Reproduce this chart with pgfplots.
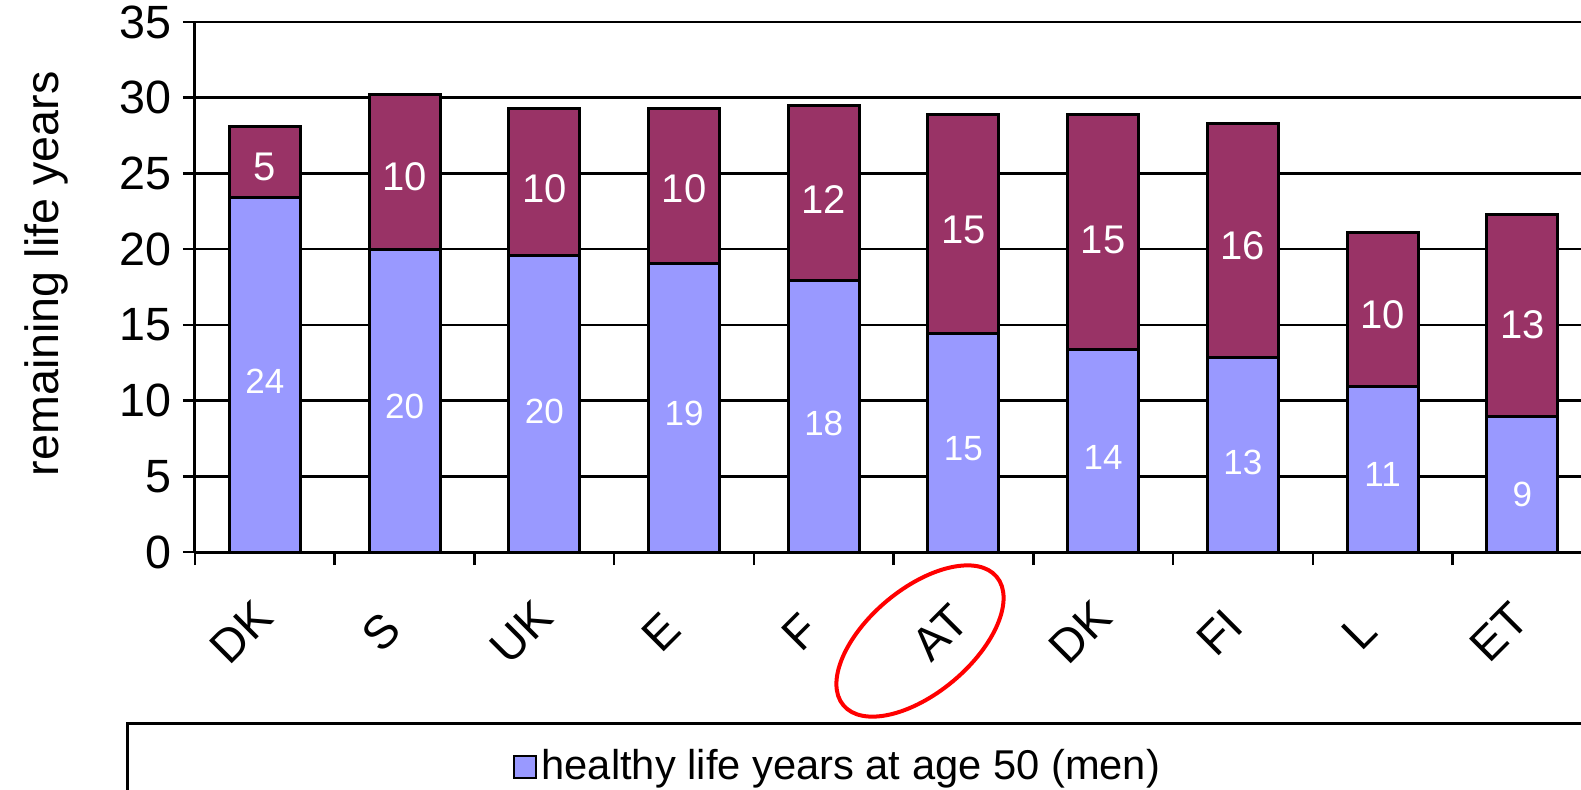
\documentclass[border=0pt]{standalone}
\usepackage{fontspec}
\setmainfont{Liberation Sans}
\usepackage{pgfplots}
\pgfplotsset{compat=1.18}
\definecolor{hly}{HTML}{9999FF}
\definecolor{dly}{HTML}{993366}
\pgfplotstableread{
x h d
0 23.4 4.73
1 20.0 10.2
2 19.6 9.67
3 19.07 10.2
4 17.93 11.54
5 14.4 14.47
6 13.4 15.47
7 12.87 15.46
8 10.93 10.2
9 8.93 13.34
}\datatab
\pgfplotstableread{
x y l
0 11.27 24
1 9.6 20
2 9.27 20
3 9.13 19
4 8.47 18
5 6.8 15
6 6.27 14
7 5.93 13
8 5.13 11
9 3.8 9
}\hlab
\pgfplotstableread{
x y l
0 25.4 5
1 24.75 10
2 24.0 10
3 24.0 10
4 23.3 12
5 21.27 15
6 20.6 15
7 20.2 16
8 15.67 10
9 15.0 13
}\dlab
\begin{document}
\begin{tikzpicture}
\useasboundingbox (-58.5pt,-71.1pt) rectangle (415.8pt,165.6pt);
\clip (-58.5pt,-71.1pt) rectangle (415.8pt,165.6pt);
\pgfplotsset{base/.style={scale only axis, width=415.8pt, height=159pt,
  xmin=-0.5, xmax=9.42, ymin=0, ymax=35}}
\begin{axis}[base, ybar stacked, bar width=21.3pt,
  axis lines*=left,
  axis line style={line width=0.9pt},
  ytick={0,5,...,35},
  ymajorgrids, grid style={black, line width=0.75pt},
  xtick={0,...,9}, xticklabels={DK,S,UK,E,F,AT,DK,FI,L,ET},
  major x tick style={draw=none},
  minor xtick={-0.5,0.5,...,8.5},
  minor tick length=3.9pt, major tick length=3.6pt,
  tick align=outside,
  tick style={black, line width=0.75pt},
  /pgf/number format/assume math mode=true,
  xticklabel style={rotate=45, anchor=center, xshift=-19.45pt, yshift=-9.55pt,
    font=\fontsize{14}{16}\selectfont},
  yticklabel style={font=\fontsize{14}{16}\selectfont},
  ylabel={remaining life years},
  ylabel style={at={(axis description cs:-0.107,0.525)}, anchor=center,
    font=\fontsize{14}{16}\selectfont},
  legend style={at={(axis description cs:0.2287,-0.362)}, anchor=north west,
    draw=none, fill=none, font=\fontsize{12.5}{15}\selectfont, inner sep=0pt,
    nodes={inner sep=1.5pt}},
  legend image code/.code={\draw[#1, line width=0.6pt] (0pt,-3.3pt) rectangle (6.6pt,3.3pt);},
]
\addplot[fill=hly, draw=black, line width=0.9pt] table[x=x, y=h] {\datatab};
\addlegendentry{healthy life years at age 50 (men)}
\addplot[fill=dly, draw=black, line width=0.9pt] table[x=x, y=d] {\datatab};
\end{axis}
\begin{axis}[base, hide axis]
\addplot[draw=none, nodes near coords, point meta=explicit symbolic,
  every node near coord/.append style={anchor=center, text=white,
    font=\fontsize{10.5}{12}\selectfont}] table[x=x, y=y, meta=l] {\hlab};
\addplot[draw=none, nodes near coords, point meta=explicit symbolic,
  every node near coord/.append style={anchor=center, text=white,
    font=\fontsize{12}{14}\selectfont}] table[x=x, y=y, meta=l] {\dlab};
\end{axis}
\draw[red, line width=1.2pt, rotate around={40:(217.5pt,-26.7pt)}]
  (217.5pt,-26.7pt) ellipse [x radius=30pt, y radius=15.6pt];
\draw[line width=0.9pt] (-20.1pt,-51.3pt) rectangle (500pt,-140pt);
\end{tikzpicture}
\end{document}
